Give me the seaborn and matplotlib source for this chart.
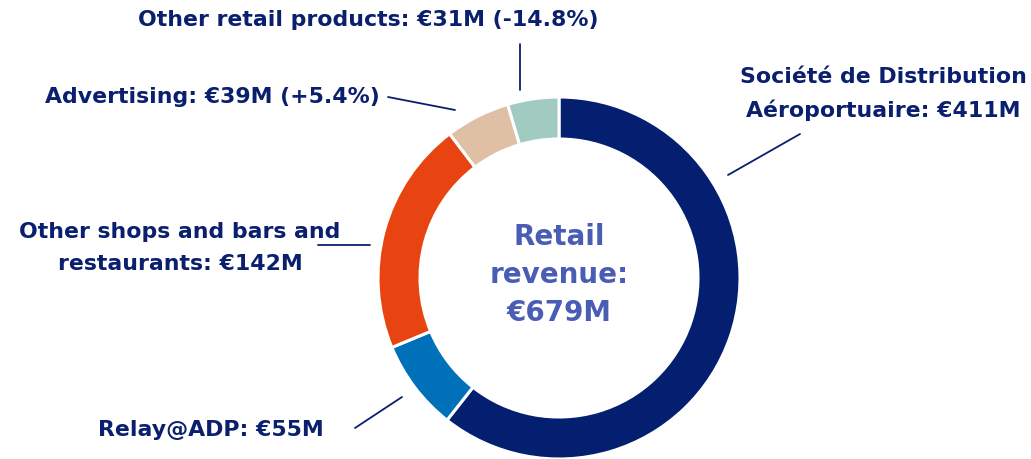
import matplotlib
matplotlib.use("Agg")
import matplotlib.pyplot as plt
import seaborn as sns

# ---------------------------------------------------------------------------
# DATA
# ---------------------------------------------------------------------------
segments = [
    "Société de Distribution\nAéroportuaire",
    "Relay@ADP",
    "Other shops and bars and\nrestaurants",
    "Advertising",
    "Other retail products",
]
revenue = [411, 55, 142, 39, 31]  # EUR millions
change = [None, None, None, "+5.4%", "-14.8%"]
total_label = "€679M"
colors = ["#041F70", "#0070B8", "#E84412", "#E0C0A5", "#A1CBC0"]

# ---------------------------------------------------------------------------
# LAYOUT (pixel units, y pointing up)
# ---------------------------------------------------------------------------
W, H = 1031, 459
CX, CY, R = 559, 459 - 278, 181
NAVY = "#0A1F6E"

# label text anchor and leader line per segment (image coords, y down)
label_pos = [(883, 94), (211, 430), (180, 248), (212, 97), (368, 20)]
leaders = [
    ((800, 134), (728, 175)),
    ((355, 428), (402, 397)),
    ((318, 245), (370, 245)),
    ((388, 97), (455, 110)),
    ((520, 44), (520, 90)),
]

sns.set_theme(style="white")
plt.rcParams["font.family"] = ["DejaVu Sans"]

fig = plt.figure(figsize=(W / 100, H / 100), dpi=100)
ax = fig.add_axes([0, 0, 1, 1])

ax.pie(
    revenue,
    colors=colors,
    startangle=90,
    counterclock=False,
    center=(CX, CY),
    radius=R,
    wedgeprops=dict(width=42, edgecolor="white", linewidth=2.2),
    frame=True,
)
ax.set_xlim(0, W)
ax.set_ylim(0, H)
ax.set_aspect("equal")
ax.axis("off")

for name, val, chg, (x, y), (p0, p1) in zip(segments, revenue, change, label_pos, leaders):
    txt = f"{name}: €{val}M"
    if chg:
        txt += f" ({chg})"
    ax.text(x, H - y, txt, ha="center", va="center", color=NAVY,
            fontsize=15.8, fontweight="bold", linespacing=1.72)
    ax.plot([p0[0], p1[0]], [H - p0[1], H - p1[1]], color=NAVY, lw=1.3)

ax.text(CX, CY + 3, f"Retail\nrevenue:\n{total_label}", ha="center", va="center",
        color="#4A5DB5", fontsize=20, fontweight="bold", linespacing=1.45)

fig.savefig("out.png", dpi=100)
plt.close()
